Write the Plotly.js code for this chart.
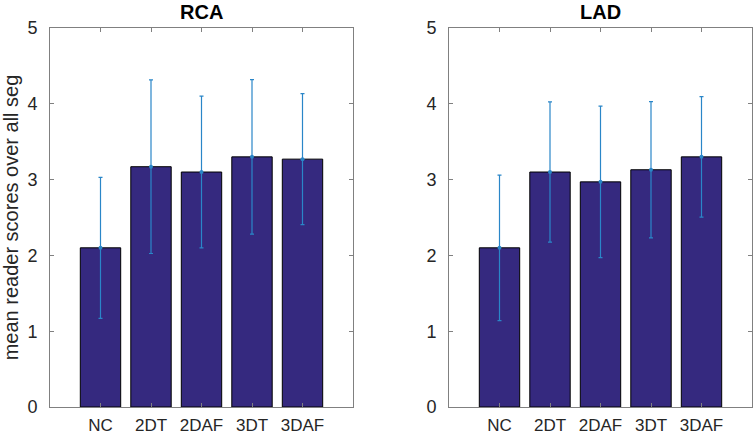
<!DOCTYPE html>
<html>
<head>
<meta charset="utf-8">
<script src="https://cdn.plot.ly/plotly-3.0.1.min.js"></script>
<style>html,body{margin:0;padding:0;background:#fff;}#chart{width:755px;height:436px;}</style>
</head>
<body>
<div id="chart"></div>
<script>
const categories = ["NC", "2DT", "2DAF", "3DT", "3DAF"];
const rcaMean = [2.10, 3.17, 3.10, 3.30, 3.27];
const rcaErr  = [0.93, 1.145, 1.0, 1.02, 0.865];
const ladMean = [2.10, 3.10, 2.97, 3.13, 3.30];
const ladErr  = [0.96, 0.925, 1.0, 0.9, 0.795];
const yTicks = [0, 1, 2, 3, 4, 5];

const barColor = '#35297f';
const errColor = '#2a86c8';
const font = {family: 'Liberation Sans, Arial, sans-serif', color: '#262626'};

function barTrace(y, xa, ya) {
  return {type: 'bar', x: categories, y: y, xaxis: xa, yaxis: ya, width: 0.8,
    marker: {color: barColor, line: {color: '#000000', width: 1}}, hoverinfo: 'none', showlegend: false};
}
function errTrace(y, e, xa, ya) {
  return {type: 'scatter', mode: 'markers', x: categories, y: y, xaxis: xa, yaxis: ya,
    marker: {color: errColor, size: 4},
    error_y: {type: 'data', array: e, visible: true, color: errColor, thickness: 1.2, width: 2},
    hoverinfo: 'none', showlegend: false};
}

const axX = (dom, anchor) => ({domain: dom, anchor: anchor, type: 'category', range: [-1, 5],
  showline: true, linecolor: '#808080', linewidth: 1, mirror: 'ticks', ticks: 'inside', ticklen: 4,
  tickcolor: '#808080', tickfont: {size: 17, color: '#262626'}, showgrid: false, zeroline: false,
  ticklabelstandoff: 3, fixedrange: true});
const axY = (anchor, title) => ({anchor: anchor, range: [0, 5], tickvals: yTicks,
  showline: true, linecolor: '#808080', linewidth: 1, mirror: 'ticks', ticks: 'inside', ticklen: 4,
  tickcolor: '#808080', tickfont: {size: 18, color: '#262626'}, showgrid: false, zeroline: false,
  ticklabelstandoff: 8,
  title: title ? {text: title, font: {size: 20, color: '#262626'}, standoff: 6} : undefined, fixedrange: true});

const data = [
  barTrace(rcaMean, 'x', 'y'), errTrace(rcaMean, rcaErr, 'x', 'y'),
  barTrace(ladMean, 'x2', 'y2'), errTrace(ladMean, ladErr, 'x2', 'y2')
];

const d1 = [0, 303/702], d2 = [399/702, 1];
const layout = {
  width: 755, height: 436,
  margin: {l: 50, r: 3, t: 28, b: 29},
  paper_bgcolor: '#ffffff', plot_bgcolor: '#ffffff',
  font: font,
  xaxis: axX(d1, 'y'), yaxis: axY('x', 'mean reader scores over all seg'),
  xaxis2: axX(d2, 'y2'), yaxis2: axY('x2', null),
  bargap: 0.2,
  annotations: [
    {text: '<b>RCA</b>', xref: 'paper', yref: 'paper', x: (d1[0]+d1[1])/2, y: 1, yshift: 3,
     xanchor: 'center', yanchor: 'bottom', showarrow: false, font: {size: 20, color: '#000000'}},
    {text: '<b>LAD</b>', xref: 'paper', yref: 'paper', x: (d2[0]+d2[1])/2, y: 1, yshift: 3,
     xanchor: 'center', yanchor: 'bottom', showarrow: false, font: {size: 20, color: '#000000'}}
  ]
};
Plotly.newPlot('chart', data, layout, {displayModeBar: false, staticPlot: true});
</script>
</body>
</html>
